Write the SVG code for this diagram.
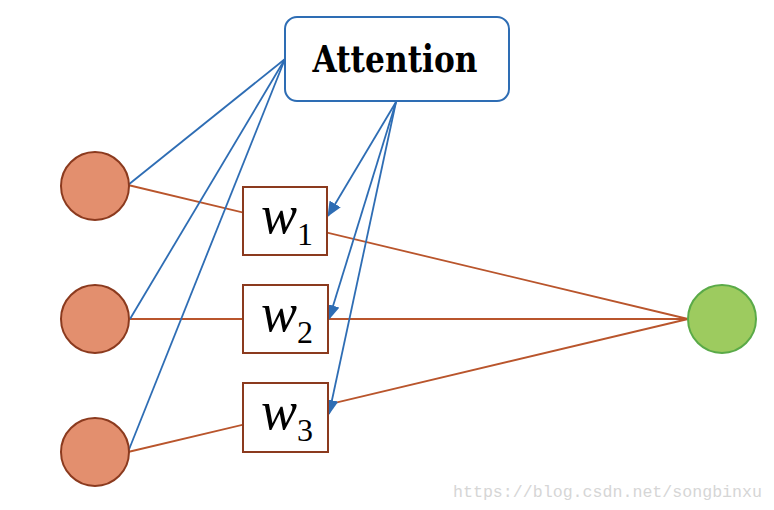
<svg xmlns="http://www.w3.org/2000/svg" width="774" height="510" viewBox="0 0 774 510">
<defs>
<marker id="ah" markerWidth="15" markerHeight="13" refX="14" refY="6.5" orient="auto" markerUnits="userSpaceOnUse">
<path d="M0,0 L15,6.5 L0,13 Z" fill="#2E6DB4"/>
</marker>
<style>
.red{stroke:#B9552C;stroke-width:1.8;fill:none}
.blue{stroke:#2E6DB4;stroke-width:1.8;fill:none}
.in{fill:#E38F6E;stroke:#8B3A1E;stroke-width:2}
.out{fill:#9DCB5F;stroke:#5AAA48;stroke-width:2}
.wbox{fill:#fff;stroke:#8B3A1E;stroke-width:2}
.w{font-family:"Liberation Serif",serif;font-style:italic;font-size:54px;fill:#000}
.sub{font-family:"Liberation Serif",serif;font-size:32px;fill:#000}
</style>
</defs>
<rect width="774" height="510" fill="#fff"/>
<g id="connectors">
<line class="red" x1="128" y1="185" x2="688" y2="319"/>
<line class="red" x1="130" y1="319" x2="688" y2="319"/>
<line class="red" x1="128" y1="452" x2="688" y2="319"/>
<line class="blue" x1="285" y1="59" x2="128" y2="185"/>
<line class="blue" x1="285" y1="59" x2="130" y2="319"/>
<line class="blue" x1="285" y1="59" x2="128" y2="452"/>
<line class="blue" x1="396" y1="102" x2="328" y2="216" marker-end="url(#ah)"/>
<line class="blue" x1="396" y1="102" x2="329" y2="319" marker-end="url(#ah)"/>
<line class="blue" x1="396" y1="102" x2="329" y2="414" marker-end="url(#ah)"/>
</g>
<g id="attention">
<rect x="285" y="17" width="224" height="84" rx="12" fill="#fff" stroke="#2E6DB4" stroke-width="2"/>
<text x="395" y="72" text-anchor="middle" font-family="DejaVu Serif, serif" font-weight="bold" font-size="38" textLength="165" lengthAdjust="spacingAndGlyphs">Attention</text>
</g>
<g id="in1"><circle class="in" cx="95" cy="186" r="34"/></g>
<g id="in2"><circle class="in" cx="95" cy="319" r="34"/></g>
<g id="in3"><circle class="in" cx="95" cy="452" r="34"/></g>
<g id="out"><circle class="out" cx="722" cy="319" r="34"/></g>
<g id="w1">
<rect class="wbox" x="243" y="187" width="84" height="68"/>
<text class="w" x="261" y="233">w</text><text class="sub" x="297" y="245">1</text>
</g>
<g id="w2">
<rect class="wbox" x="243" y="285" width="85" height="68"/>
<text class="w" x="261" y="331">w</text><text class="sub" x="297" y="343">2</text>
</g>
<g id="w3">
<rect class="wbox" x="243" y="383" width="85" height="69"/>
<text class="w" x="261" y="429">w</text><text class="sub" x="297" y="441">3</text>
</g>
<text x="453" y="497" font-family="Liberation Mono, monospace" font-size="16" fill="#D6D6D6" textLength="309" lengthAdjust="spacingAndGlyphs">https://blog.csdn.net/songbinxu</text>
</svg>
